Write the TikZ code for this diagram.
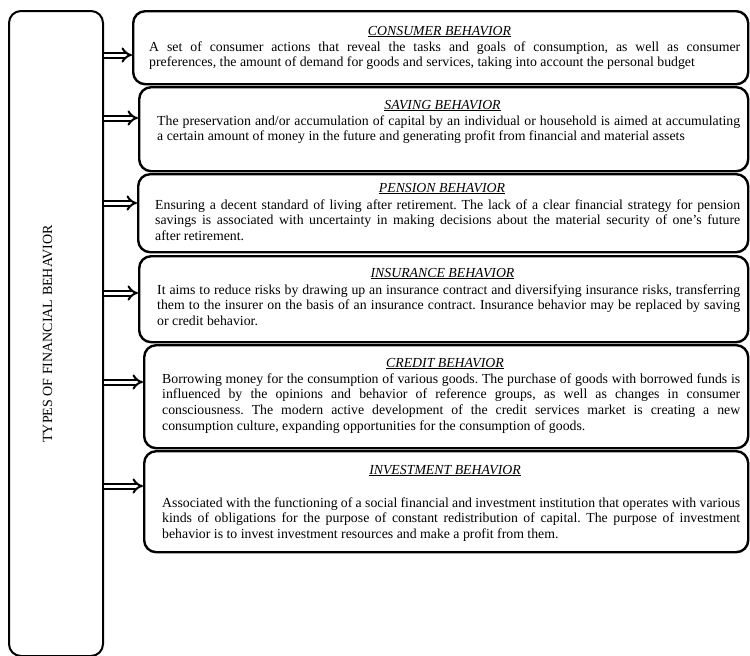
\documentclass[tikz,border=0pt]{standalone}
\usepackage{fontspec}
\setmainfont{Liberation Serif}
\usetikzlibrary{arrows.meta}
\frenchspacing
\tikzset{
  bx/.style={draw, line width=2.4pt, rounded corners=12pt, anchor=north west, inner sep=0pt},
  ttl/.style={anchor=base, inner sep=0pt, font=\fontsize{13.8}{15.8}\selectfont\itshape},
  body/.style={anchor=base west, inner sep=0pt, align=justify, font=\fontsize{13.8}{15.8}\selectfont\frenchspacing},
  arr/.style={double, double distance=3pt, line width=2pt, -{Implies[scale=1.15]}},
}
\newcommand{\bxttl}[1]{\underline{#1}}
\begin{document}
\begin{tikzpicture}[x=1pt,y=-1pt]
\useasboundingbox (0,0) rectangle (750,656);
% left box
\node[bx, line width=2pt, minimum width=94pt, minimum height=645pt] (L) at (8,10) {};
\node[rotate=90, inner sep=0pt, font=\fontsize{14}{16}\selectfont] (Lt) at (47.5,334) {TYPES OF FINANCIAL BEHAVIOR};
% boxes
\node[bx, minimum width=615pt, minimum height=73pt] (b1) at (132,10) {};
\node[bx, minimum width=609pt, minimum height=84pt] (b2) at (138,86) {};
\node[bx, minimum width=610pt, minimum height=78pt] (b3) at (137,173) {};
\node[bx, minimum width=609pt, minimum height=86pt] (b4) at (138,255) {};
\node[bx, minimum width=604pt, minimum height=103pt] (b5) at (143,344) {};
\node[bx, minimum width=604pt, minimum height=101pt] (b6) at (143,450) {};
% titles
\node[ttl] (t1) at (439.5,35) {\bxttl{CONSUMER BEHAVIOR}};
\node[ttl] (t2) at (442.5,109) {\bxttl{SAVING BEHAVIOR}};
\node[ttl] (t3) at (442,192) {\bxttl{PENSION BEHAVIOR}};
\node[ttl] (t4) at (442.5,277) {\bxttl{INSURANCE BEHAVIOR}};
\node[ttl] (t5) at (445,367) {\bxttl{CREDIT BEHAVIOR}};
\node[ttl] (t6) at (445,474) {\bxttl{INVESTMENT BEHAVIOR}};
% bodies
\node[body, text width=591pt] (x1) at (149,51) {A set of consumer actions that reveal the tasks and goals of consumption, as well as consumer\linebreak preferences, the amount of demand for goods and services, taking into account the personal budget};
\node[body, text width=583pt] (x2) at (157,125) {The preservation and/or accumulation of capital by an individual or household is aimed at accumulating\linebreak a certain amount of money in the future and generating profit from financial and material assets};
\node[body, text width=585pt] (x3) at (155,209) {Ensuring a decent standard of living after retirement. The lack of a clear financial strategy for pension\linebreak savings is associated with uncertainty in making decisions about the material security of one’s future\linebreak after retirement.};
\node[body, text width=583pt] (x4) at (157,294) {It aims to reduce risks by drawing up an insurance contract and diversifying insurance risks, transferring\linebreak them to the insurer on the basis of an insurance contract. Insurance behavior may be replaced by saving\linebreak or credit behavior.};
\node[body, text width=578pt] (x5) at (162,383) {Borrowing money for the consumption of various goods. The purchase of goods with borrowed funds is\linebreak influenced by the opinions and behavior of reference groups, as well as changes in consumer\linebreak consciousness. The modern active development of the credit services market is creating a new\linebreak consumption culture, expanding opportunities for the consumption of goods.};
\node[body, text width=578pt] (x6) at (162,507) {Associated with the functioning of a social financial and investment institution that operates with various\linebreak kinds of obligations for the purpose of constant redistribution of capital. The purpose of investment\linebreak behavior is to invest investment resources and make a profit from them.};
% arrows
\coordinate (y1) at (0,55);
\coordinate (y2) at (0,118);
\coordinate (y3) at (0,203);
\coordinate (y4) at (0,293);
\coordinate (y5) at (0,382);
\coordinate (y6) at (0,486);
\draw[arr] (L.east |- y1) -- (b1.west |- y1);
\draw[arr] (L.east |- y2) -- (b2.west |- y2);
\draw[arr] (L.east |- y3) -- (b3.west |- y3);
\draw[arr] (L.east |- y4) -- (b4.west |- y4);
\draw[arr] (L.east |- y5) -- (b5.west |- y5);
\draw[arr] (L.east |- y6) -- (b6.west |- y6);
\end{tikzpicture}
\end{document}
